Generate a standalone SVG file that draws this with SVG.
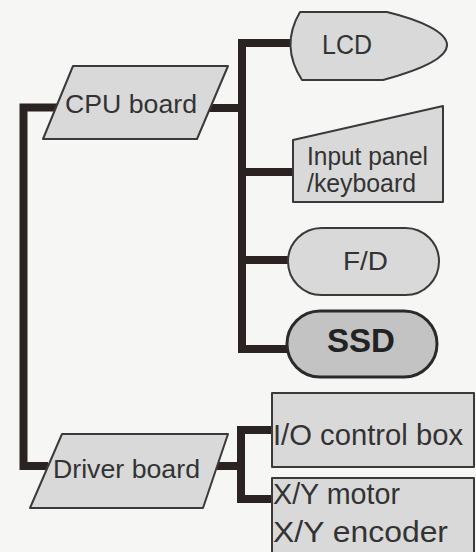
<svg xmlns="http://www.w3.org/2000/svg" width="476" height="552" viewBox="0 0 476 552">
<style>
.node{fill:#d9d9d9;stroke:#3a3a3a;stroke-width:2;stroke-linejoin:round}
.dark{fill:#c3c3c3;stroke:#2a2a2a;stroke-width:3}
.conn{fill:none;stroke:#2b2321;stroke-width:8;stroke-linejoin:miter;stroke-linecap:butt}
.t{font-family:"Liberation Sans",Arial,sans-serif;fill:#333}
.b{font-weight:bold;fill:#222}
</style>
<rect width="476" height="552" fill="#f6f6f4"/>
<g id="connectors">
<path class="conn" d="M60 107.5H23.5V466H48"/>
<path class="conn" d="M208 108H242"/>
<path class="conn" d="M295 43H242V349H290"/>
<path class="conn" d="M242 172H294"/>
<path class="conn" d="M242 260H290"/>
<path class="conn" d="M205 466H241"/>
<path class="conn" d="M274 430H241V499H274"/>
</g>
<g id="cpu-board">
<polygon class="node" points="73,66 228,66 197,139 43,139"/>
<text class="t" x="65" y="113" font-size="25" textLength="132" lengthAdjust="spacingAndGlyphs">CPU board</text>
</g>
<g id="lcd">
<path class="node" d="M300 12H387C420 20 447 32 447 45C447 58 420 70 383 80H302Q280 46 300 12Z"/>
<text class="t" x="322" y="54" font-size="27" textLength="50" lengthAdjust="spacingAndGlyphs">LCD</text>
</g>
<g id="input-panel">
<polygon class="node" points="293,140 443,106 443,202 293,202"/>
<text class="t" x="307" y="165" font-size="25" textLength="121" lengthAdjust="spacingAndGlyphs">Input panel</text>
<text class="t" x="307" y="192" font-size="25" textLength="109" lengthAdjust="spacingAndGlyphs">/keyboard</text>
</g>
<g id="fd">
<rect class="node" x="288" y="228" width="151" height="67" rx="33.5"/>
<text class="t" x="343" y="270" font-size="25" textLength="45" lengthAdjust="spacingAndGlyphs">F/D</text>
</g>
<g id="ssd">
<rect class="node dark" x="287" y="311" width="150" height="66" rx="33"/>
<text class="t b" x="327" y="352" font-size="34" textLength="68" lengthAdjust="spacingAndGlyphs">SSD</text>
</g>
<g id="driver-board">
<polygon class="node" points="62,434 228,434 203,508 30,508"/>
<text class="t" x="53" y="478" font-size="25" textLength="147" lengthAdjust="spacingAndGlyphs">Driver board</text>
</g>
<g id="io-box">
<rect class="node" x="272" y="393" width="202" height="74"/>
<text class="t" x="273" y="445" font-size="30" textLength="190" lengthAdjust="spacingAndGlyphs">I/O control box</text>
</g>
<g id="xy-box">
<rect class="node" x="272" y="478" width="202" height="80"/>
<text class="t" x="273" y="504" font-size="29" textLength="127" lengthAdjust="spacingAndGlyphs">X/Y motor</text>
<text class="t" x="273" y="542" font-size="29" textLength="175" lengthAdjust="spacingAndGlyphs">X/Y encoder</text>
</g>
</svg>
